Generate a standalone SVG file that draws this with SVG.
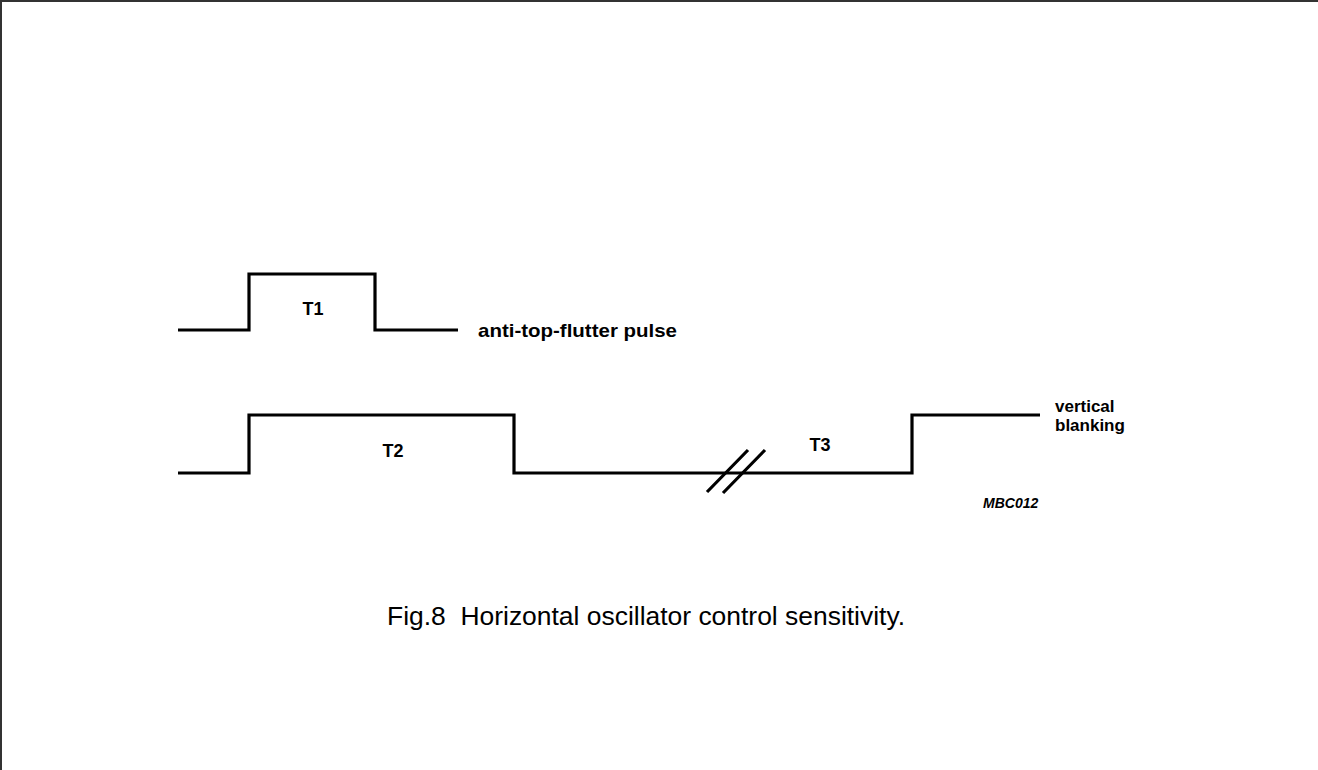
<svg xmlns="http://www.w3.org/2000/svg" width="1318" height="770" viewBox="0 0 1318 770">
<style>
.w{fill:none;stroke:#000;stroke-width:3.2;stroke-linejoin:miter;stroke-linecap:butt}
.b{font-family:"Liberation Sans",Arial,sans-serif;font-weight:bold;fill:#000}
.c{font-family:"Liberation Sans",Arial,sans-serif;fill:#000}
</style>
<rect width="1318" height="770" fill="#fff"/>
<path d="M1,770 V1 H1318" fill="none" stroke="#333" stroke-width="2"/>
<g id="connectors">
<path class="w" d="M178,330 H249 V274 H375 V330 H458"/>
<path class="w" d="M178,473 H249 V415 H514 V473 H912 V415 H1040"/>
<path class="w" d="M707,492 L748,450 M723,493 L765,450" stroke-width="2.5"/>
</g>
<g id="t1"><text class="b" x="313" y="315" font-size="18" text-anchor="middle">T1</text></g>
<g id="t2"><text class="b" x="393" y="457" font-size="18" text-anchor="middle">T2</text></g>
<g id="t3"><text class="b" x="820" y="451" font-size="18" text-anchor="middle">T3</text></g>
<g id="label-atf"><text class="b" x="478" y="337" font-size="19" textLength="199" lengthAdjust="spacingAndGlyphs">anti-top-flutter pulse</text></g>
<g id="label-vb"><text class="b" x="1055" y="412" font-size="17">vertical</text><text class="b" x="1055" y="431" font-size="17">blanking</text></g>
<g id="code"><text class="b" x="983" y="508" font-size="14" font-style="italic">MBC012</text></g>
<g id="caption"><text class="c" x="387" y="625" font-size="26" textLength="518" lengthAdjust="spacingAndGlyphs" xml:space="preserve">Fig.8  Horizontal oscillator control sensitivity.</text></g>
</svg>
